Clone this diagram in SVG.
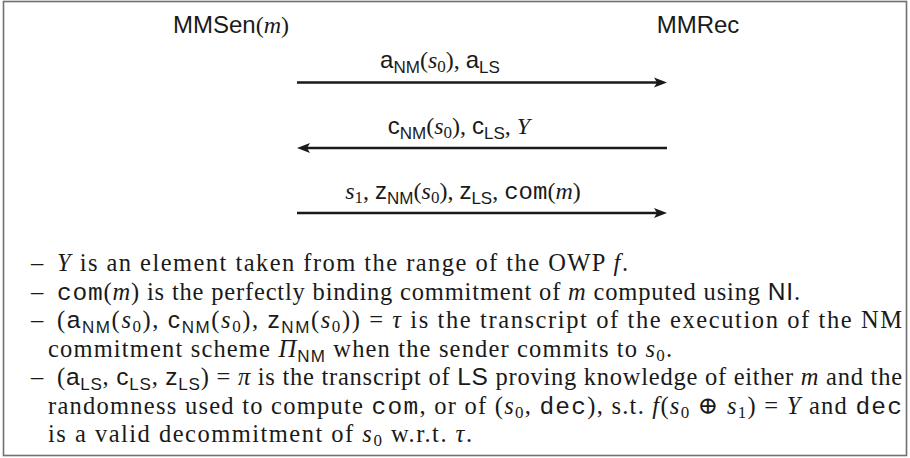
<svg xmlns="http://www.w3.org/2000/svg" width="910" height="458" viewBox="0 0 910 458">
<defs>
<style>
.sans{font-family:"Liberation Sans","DejaVu Sans",sans-serif;}
.serif{font-family:"Liberation Serif","DejaVu Serif",serif;}
.mono{font-family:"Liberation Mono","DejaVu Sans Mono",monospace;}
.it{font-style:italic;}
.hd{font-size:24px;fill:#1a1a1a;}
.lb{font-size:24px;fill:#1a1a1a;}
.nt{font-size:24.5px;fill:#1a1a1a;}
.sub{font-size:17px;}
.msg{stroke:#1a1a1a;stroke-width:2.4;fill:none;}
</style>
<marker id="ah" markerUnits="userSpaceOnUse" markerWidth="14" markerHeight="12" refX="3" refY="5.5" orient="auto">
<path d="M0,0.5 L13,5.5 L0,10.5 L3,5.5 Z" fill="#1a1a1a"/>
</marker>
</defs>
<rect x="3.5" y="1.5" width="903" height="454" fill="#ffffff" stroke="#707070" stroke-width="1.6"/>

<g id="sender">
<text class="hd" x="231" y="33" text-anchor="middle"><tspan class="sans">MMSen</tspan><tspan class="serif">(</tspan><tspan class="serif it">m</tspan><tspan class="serif">)</tspan></text>
</g>
<g id="receiver">
<text class="hd sans" x="698" y="33" text-anchor="middle">MMRec</text>
</g>

<g id="connectors">
<line class="msg" x1="297" y1="82.5" x2="657" y2="82.5" marker-end="url(#ah)"/>
<line class="msg" x1="667" y1="148" x2="307" y2="148" marker-end="url(#ah)"/>
<line class="msg" x1="297" y1="213" x2="657" y2="213" marker-end="url(#ah)"/>
<text class="lb" x="440" y="68" text-anchor="middle"><tspan class="sans">a</tspan><tspan class="sans sub" dy="5">NM</tspan><tspan class="serif" dy="-5">(</tspan><tspan class="serif it">s</tspan><tspan class="serif sub" dy="4">0</tspan><tspan class="serif" dy="-4">), </tspan><tspan class="sans">a</tspan><tspan class="sans sub" dy="5">LS</tspan></text>
<text class="lb" x="459" y="134" text-anchor="middle"><tspan class="sans">c</tspan><tspan class="sans sub" dy="5">NM</tspan><tspan class="serif" dy="-5">(</tspan><tspan class="serif it">s</tspan><tspan class="serif sub" dy="4">0</tspan><tspan class="serif" dy="-4">), </tspan><tspan class="sans">c</tspan><tspan class="sans sub" dy="5">LS</tspan><tspan class="serif" dy="-5">, </tspan><tspan class="serif it">Y</tspan></text>
<text class="lb" x="463" y="199" text-anchor="middle"><tspan class="serif it">s</tspan><tspan class="serif sub" dy="4">1</tspan><tspan class="serif" dy="-4">, </tspan><tspan class="sans">z</tspan><tspan class="sans sub" dy="5">NM</tspan><tspan class="serif" dy="-5">(</tspan><tspan class="serif it">s</tspan><tspan class="serif sub" dy="4">0</tspan><tspan class="serif" dy="-4">), </tspan><tspan class="sans">z</tspan><tspan class="sans sub" dy="5">LS</tspan><tspan class="serif" dy="-5">, </tspan><tspan class="mono">com</tspan><tspan class="serif">(</tspan><tspan class="serif it">m</tspan><tspan class="serif">)</tspan></text>
</g>

<g id="notes" class="serif nt">
<text x="31" y="271">–</text>
<text x="31" y="299.5">–</text>
<text x="31" y="328">–</text>
<text x="31" y="385">–</text>
<text x="57" y="271" textLength="571" lengthAdjust="spacing"><tspan class="it">Y</tspan> is an element taken from the range of the OWP <tspan class="it">f</tspan>.</text>
<text x="57" y="299.5" textLength="743" lengthAdjust="spacing"><tspan class="mono">com</tspan>(<tspan class="it">m</tspan>) is the perfectly binding commitment of <tspan class="it">m</tspan> computed using <tspan class="sans">NI</tspan>.</text>
<text x="57" y="328" textLength="845" lengthAdjust="spacing">(<tspan class="sans">a</tspan><tspan class="sans sub" dy="5">NM</tspan><tspan dy="-5">(</tspan><tspan class="it">s</tspan><tspan class="sub" dy="4">0</tspan><tspan dy="-4">), </tspan><tspan class="sans">c</tspan><tspan class="sans sub" dy="5">NM</tspan><tspan dy="-5">(</tspan><tspan class="it">s</tspan><tspan class="sub" dy="4">0</tspan><tspan dy="-4">), </tspan><tspan class="sans">z</tspan><tspan class="sans sub" dy="5">NM</tspan><tspan dy="-5">(</tspan><tspan class="it">s</tspan><tspan class="sub" dy="4">0</tspan><tspan dy="-4">)) = </tspan><tspan class="it">τ</tspan> is the transcript of the execution of the NM</text>
<text x="48" y="356.5" textLength="624" lengthAdjust="spacing">commitment scheme <tspan class="it">Π</tspan><tspan class="sans sub" dy="5">NM</tspan><tspan dy="-5"> when the sender commits to </tspan><tspan class="it">s</tspan><tspan class="sub" dy="4">0</tspan><tspan dy="-4">.</tspan></text>
<text x="57" y="385" textLength="845" lengthAdjust="spacing">(<tspan class="sans">a</tspan><tspan class="sans sub" dy="5">LS</tspan><tspan dy="-5">, </tspan><tspan class="sans">c</tspan><tspan class="sans sub" dy="5">LS</tspan><tspan dy="-5">, </tspan><tspan class="sans">z</tspan><tspan class="sans sub" dy="5">LS</tspan><tspan dy="-5">) = </tspan><tspan class="it">π</tspan> is the transcript of <tspan class="sans">LS</tspan> proving knowledge of either <tspan class="it">m</tspan> and the</text>
<text x="48" y="413.5" textLength="854" lengthAdjust="spacing">randomness used to compute <tspan class="mono">com</tspan>, or of (<tspan class="it">s</tspan><tspan class="sub" dy="4">0</tspan><tspan dy="-4">, </tspan><tspan class="mono">dec</tspan>), s.t. <tspan class="it">f</tspan>(<tspan class="it">s</tspan><tspan class="sub" dy="4">0</tspan><tspan dy="-4"> ⊕ </tspan><tspan class="it">s</tspan><tspan class="sub" dy="4">1</tspan><tspan dy="-4">) = </tspan><tspan class="it">Y</tspan> and <tspan class="mono">dec</tspan></text>
<text x="48" y="442" textLength="424" lengthAdjust="spacing">is a valid decommitment of <tspan class="it">s</tspan><tspan class="sub" dy="4">0</tspan><tspan dy="-4"> w.r.t. </tspan><tspan class="it">τ</tspan>.</text>
</g>
</svg>
